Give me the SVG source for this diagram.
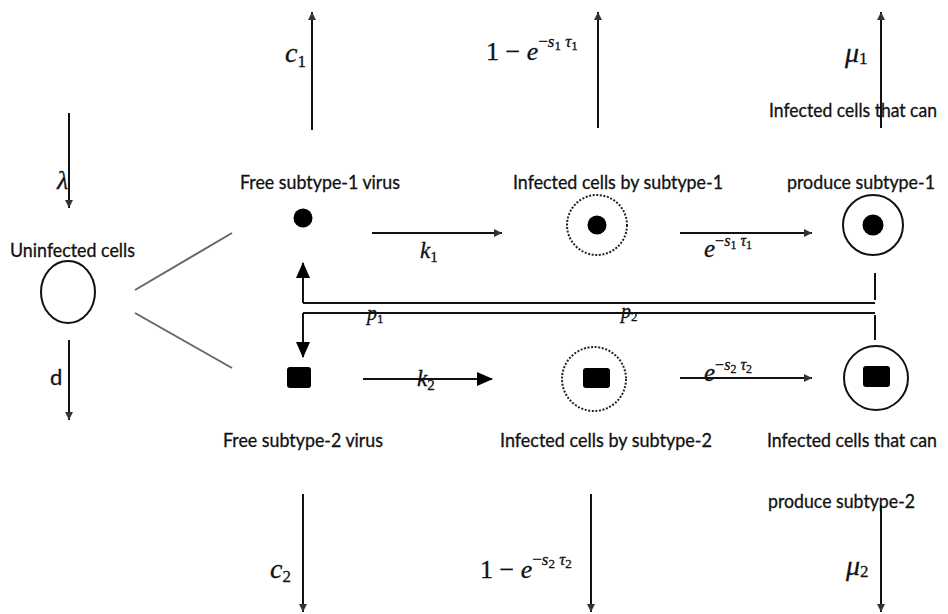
<svg xmlns="http://www.w3.org/2000/svg" width="948" height="614" viewBox="0 0 948 614">
  <style>
    .lbl { font-family: Lato, "Liberation Sans", sans-serif; font-size: 18.5px; fill: #111; stroke: #111; stroke-width: 0.3; }
    .math { font-family: "Liberation Serif", "DejaVu Serif", serif; font-style: italic; fill: #111; stroke: #111; stroke-width: 0.3; }
    .up { font-style: normal; }
    .ln { stroke: #111; stroke-width: 2; fill: none; }
    .thin { stroke: #111; stroke-width: 2; fill: none; }
    .split { stroke: #666; stroke-width: 2; fill: none; }
    .dotted { stroke: #222; stroke-width: 2; stroke-dasharray: 2 1.6; fill: none; }
    .solid { stroke: #111; stroke-width: 2; fill: none; }
    .core { fill: #000; }
  </style>
  <defs>
    <marker id="tip" markerUnits="userSpaceOnUse" markerWidth="8" markerHeight="10" refX="8" refY="5" orient="auto">
      <path d="M0,1 L8,5 L0,9 z" fill="#333"/>
    </marker>
    <marker id="head" markerUnits="userSpaceOnUse" markerWidth="16" markerHeight="14" refX="15" refY="7" orient="auto">
      <path d="M0,0 L16,7 L0,14 z" fill="#000"/>
    </marker>
  </defs>

  <rect width="948" height="614" fill="#fff"/>

  <!-- flows, transitions and losses -->
  <g id="connectors">
    <!-- supply and death of uninfected cells -->
    <line class="ln" x1="69" y1="113" x2="69" y2="208" marker-end="url(#tip)"/>
    <line class="ln" x1="69" y1="340" x2="69" y2="420" marker-end="url(#tip)"/>
    <!-- uninfected cells split towards the two viruses -->
    <line class="split" x1="135" y1="290" x2="232" y2="233"/>
    <line class="split" x1="135" y1="313" x2="232" y2="368"/>
    <!-- upper losses -->
    <line class="ln" x1="312" y1="130" x2="312" y2="12" marker-end="url(#tip)"/>
    <line class="ln" x1="598" y1="128" x2="598" y2="12" marker-end="url(#tip)"/>
    <line class="ln" x1="881" y1="128" x2="881" y2="12" marker-end="url(#tip)"/>
    <!-- lower losses -->
    <line class="ln" x1="303" y1="494" x2="303" y2="612" marker-end="url(#tip)"/>
    <line class="ln" x1="591" y1="494" x2="591" y2="612" marker-end="url(#tip)"/>
    <line class="ln" x1="881" y1="505" x2="881" y2="612" marker-end="url(#tip)"/>
    <!-- infection steps -->
    <line class="thin" x1="372" y1="233" x2="502" y2="233" marker-end="url(#tip)"/>
    <line class="thin" x1="363" y1="379" x2="492" y2="379" marker-end="url(#head)"/>
    <line class="thin" x1="680" y1="233" x2="812" y2="233" marker-end="url(#tip)"/>
    <line class="thin" x1="680" y1="378" x2="812" y2="378" marker-end="url(#tip)"/>
    <!-- production feedback to the free viruses -->
    <line class="ln" x1="303" y1="303" x2="875" y2="303"/>
    <line class="ln" x1="303" y1="313" x2="875" y2="313"/>
    <line class="ln" x1="875" y1="273" x2="875" y2="300"/>
    <line class="ln" x1="875" y1="315" x2="875" y2="340"/>
    <line class="ln" x1="303" y1="303" x2="303" y2="263" marker-end="url(#head)"/>
    <line class="ln" x1="303" y1="313" x2="303" y2="357" marker-end="url(#head)"/>
  </g>

  <!-- rate labels -->
  <g id="rates">
    <text class="math" x="57" y="189" font-size="26">λ</text>
    <text class="math up" x="50" y="385" font-size="22" style="font-family: Lato, 'Liberation Sans', sans-serif">d</text>
    <text class="math" x="285" y="62" font-size="28">c<tspan class="up" font-size="17" dy="5">1</tspan></text>
    <text class="math" x="486" y="60" font-size="26"><tspan class="up">1 − </tspan>e<tspan font-size="17" dy="-13"><tspan class="up">−</tspan>s<tspan class="up" font-size="13" dy="3">1</tspan><tspan dy="-3"> τ</tspan><tspan class="up" font-size="13" dy="3">1</tspan></tspan></text>
    <text class="math" x="845" y="62" font-size="28">μ<tspan class="up" font-size="17" dy="2">1</tspan></text>
    <text class="math" x="420" y="258" font-size="23">k<tspan class="up" font-size="15" dy="4">1</tspan></text>
    <text class="math" x="417" y="386" font-size="23">k<tspan class="up" font-size="15" dy="4">2</tspan></text>
    <text class="math" x="704" y="257" font-size="25">e<tspan font-size="16" dy="-11"><tspan class="up">−</tspan>s<tspan class="up" font-size="12" dy="3">1</tspan><tspan dy="-3"> τ</tspan><tspan class="up" font-size="12" dy="3">1</tspan></tspan></text>
    <text class="math" x="704" y="381" font-size="25">e<tspan font-size="16" dy="-11"><tspan class="up">−</tspan>s<tspan class="up" font-size="12" dy="3">2</tspan><tspan dy="-3"> τ</tspan><tspan class="up" font-size="12" dy="3">2</tspan></tspan></text>
    <text class="math" x="367" y="320" font-size="20">p<tspan class="up" font-size="13" dy="3">1</tspan></text>
    <text class="math" x="621" y="318" font-size="20">p<tspan class="up" font-size="13" dy="3">2</tspan></text>
    <text class="math" x="270" y="578" font-size="28">c<tspan class="up" font-size="17" dy="4">2</tspan></text>
    <text class="math" x="480" y="578" font-size="26"><tspan class="up">1 − </tspan>e<tspan font-size="17" dy="-13"><tspan class="up">−</tspan>s<tspan class="up" font-size="13" dy="3">2</tspan><tspan dy="-3"> τ</tspan><tspan class="up" font-size="13" dy="3">2</tspan></tspan></text>
    <text class="math" x="846" y="575" font-size="28">μ<tspan class="up" font-size="17" dy="2">2</tspan></text>
  </g>

  <!-- uninfected cells -->
  <g id="uninfected">
    <text class="lbl" x="10" y="257" textLength="125" lengthAdjust="spacingAndGlyphs">Uninfected cells</text>
    <ellipse class="solid" cx="68" cy="292" rx="27" ry="31"/>
  </g>

  <!-- free subtype-1 virus -->
  <g id="virus1">
    <text class="lbl" x="240" y="189" textLength="160" lengthAdjust="spacingAndGlyphs">Free subtype-1 virus</text>
    <circle class="core" cx="303" cy="218" r="9.5"/>
  </g>

  <!-- free subtype-2 virus -->
  <g id="virus2">
    <rect class="core" x="287" y="367" width="24" height="21" rx="3"/>
    <text class="lbl" x="223" y="447" textLength="160" lengthAdjust="spacingAndGlyphs">Free subtype-2 virus</text>
  </g>

  <!-- infected cells by subtype-1 -->
  <g id="infected1">
    <text class="lbl" x="513" y="189" textLength="210" lengthAdjust="spacingAndGlyphs">Infected cells by subtype-1</text>
    <circle class="dotted" cx="597" cy="225" r="30"/>
    <circle class="core" cx="597" cy="225" r="9.5"/>
  </g>

  <!-- infected cells by subtype-2 -->
  <g id="infected2">
    <circle class="dotted" cx="594" cy="379" r="32"/>
    <rect class="core" x="583" y="368" width="27" height="20" rx="3"/>
    <text class="lbl" x="500" y="447" textLength="212" lengthAdjust="spacingAndGlyphs">Infected cells by subtype-2</text>
  </g>

  <!-- producing cells, subtype-1 -->
  <g id="producer1">
    <text class="lbl" x="769" y="117" textLength="168" lengthAdjust="spacingAndGlyphs">Infected cells that can</text>
    <text class="lbl" x="787" y="189" textLength="148" lengthAdjust="spacingAndGlyphs">produce subtype-1</text>
    <circle class="solid" cx="873" cy="225" r="30"/>
    <circle class="core" cx="873" cy="225" r="10.5"/>
  </g>

  <!-- producing cells, subtype-2 -->
  <g id="producer2">
    <circle class="solid" cx="876" cy="378" r="32"/>
    <rect class="core" x="863" y="366" width="27" height="21" rx="3"/>
    <text class="lbl" x="767" y="447" textLength="170" lengthAdjust="spacingAndGlyphs">Infected cells that can</text>
    <text class="lbl" x="768" y="508" textLength="147" lengthAdjust="spacingAndGlyphs">produce subtype-2</text>
  </g>
</svg>
